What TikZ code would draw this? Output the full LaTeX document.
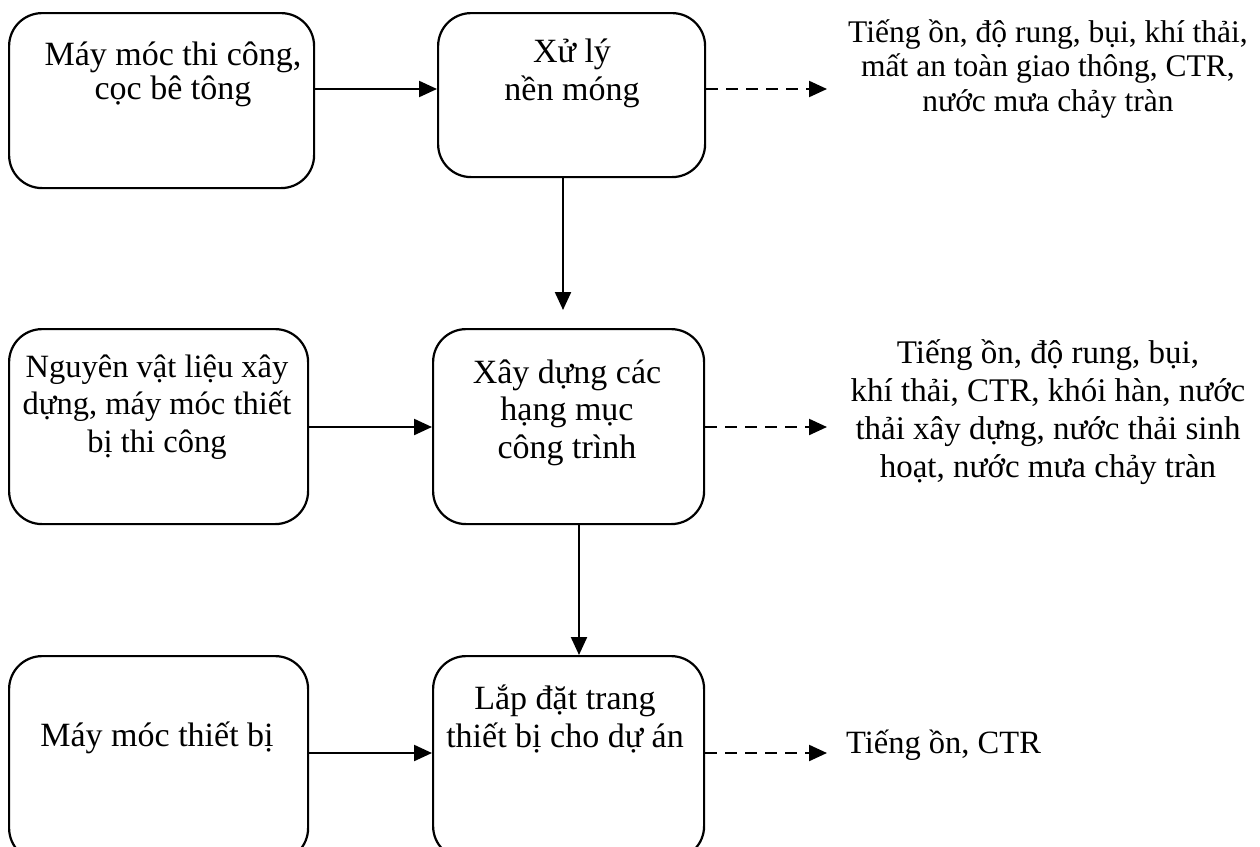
\documentclass[tikz,border=0pt]{standalone}
\usepackage{fontspec}
\setmainfont{Liberation Serif}
\usetikzlibrary{arrows.meta}

\begin{document}
\begin{tikzpicture}[x=1pt,y=-1pt,
  stagebox/.style={draw=black, line width=2.2pt, rounded corners=33pt,
    minimum width=#1, inner sep=0pt, anchor=north west},
  % multi-line labels are placed by the baseline of their last line
  boxtext/.style={align=center, anchor=base, inner sep=0pt,
    font=\fontsize{34}{37.5}\selectfont},
  sidetext/.style={align=center, anchor=base, inner sep=0pt},
  flow/.style={line width=2.2pt, -{Triangle[length=18pt,width=16pt]}},
  emit/.style={flow, dash pattern=on 12pt off 8pt}]

\useasboundingbox (0,0) rectangle (1260,846);

% process boxes
\node[stagebox=305pt, minimum height=175pt] (b1) at (8,12) {};
\node[stagebox=267pt, minimum height=164pt] (b2) at (437,12) {};
\node[stagebox=299pt, minimum height=195pt] (b3) at (8,328) {};
\node[stagebox=271pt, minimum height=195pt] (b4) at (432,328) {};
\node[stagebox=299pt, minimum height=205pt] (b5) at (8,655) {};
\node[stagebox=271pt, minimum height=203pt] (b6) at (432,655) {};

% box labels
\node[boxtext, font=\fontsize{34}{34.5}\selectfont] (l1) at (173,99.5) {Máy móc thi công,\\cọc bê tông};
\node[boxtext] (l2) at (572,100) {Xử lý\\nền móng};
\node[boxtext, font=\fontsize{32.5}{37.5}\selectfont] (l3) at (157,452) {Nguyên vật liệu xây\\dựng, máy móc thiết\\bị thi công};
\node[boxtext] (l4) at (567,458) {Xây dựng các\\hạng mục\\công trình};
\node[boxtext] (l5) at (157,746) {Máy móc thiết bị};
\node[boxtext] (l6) at (565,747) {Lắp đặt trang\\thiết bị cho dự án};

% emissions
\node[sidetext, font=\fontsize{31.5}{34.5}\selectfont] (e1) at (1048,111)
  {Tiếng ồn, độ rung, bụi, khí thải,\\mất an toàn giao thông, CTR,\\nước mưa chảy tràn};
\node[sidetext, font=\fontsize{33}{37.7}\selectfont] (e2) at (1048,477)
  {Tiếng ồn, độ rung, bụi,\\khí thải, CTR, khói hàn, nước\\thải xây dựng, nước thải sinh\\hoạt, nước mưa chảy tràn};
\node[sidetext, anchor=base west, font=\fontsize{32.5}{36}\selectfont] (e3) at (846,753)
  {Tiếng ồn, CTR};

% connector levels and free ends
\coordinate (r1) at (0,89);
\coordinate (r2) at (0,427);
\coordinate (r3) at (0,753);
\coordinate (d1) at (827,89);
\coordinate (d2) at (827,427);
\coordinate (d3) at (827,753);
\coordinate (c1) at (563,0);
\coordinate (c2) at (579,0);
\coordinate (s1) at (0,310);

% inputs
\draw[flow] (b1.east |- r1) -- (b2.west |- r1);
\draw[flow] (b3.east |- r2) -- (b4.west |- r2);
\draw[flow] (b5.east |- r3) -- (b6.west |- r3);

% main sequence
\draw[flow] (c1 |- b2.south) -- (c1 |- s1);
\draw[flow] (c2 |- b4.south) -- (c2 |- b6.north);

% emissions
\draw[emit] (b2.east |- r1) -- (d1);
\draw[emit] (b4.east |- r2) -- (d2);
\draw[emit] (b6.east |- r3) -- (d3);
\end{tikzpicture}
\end{document}
